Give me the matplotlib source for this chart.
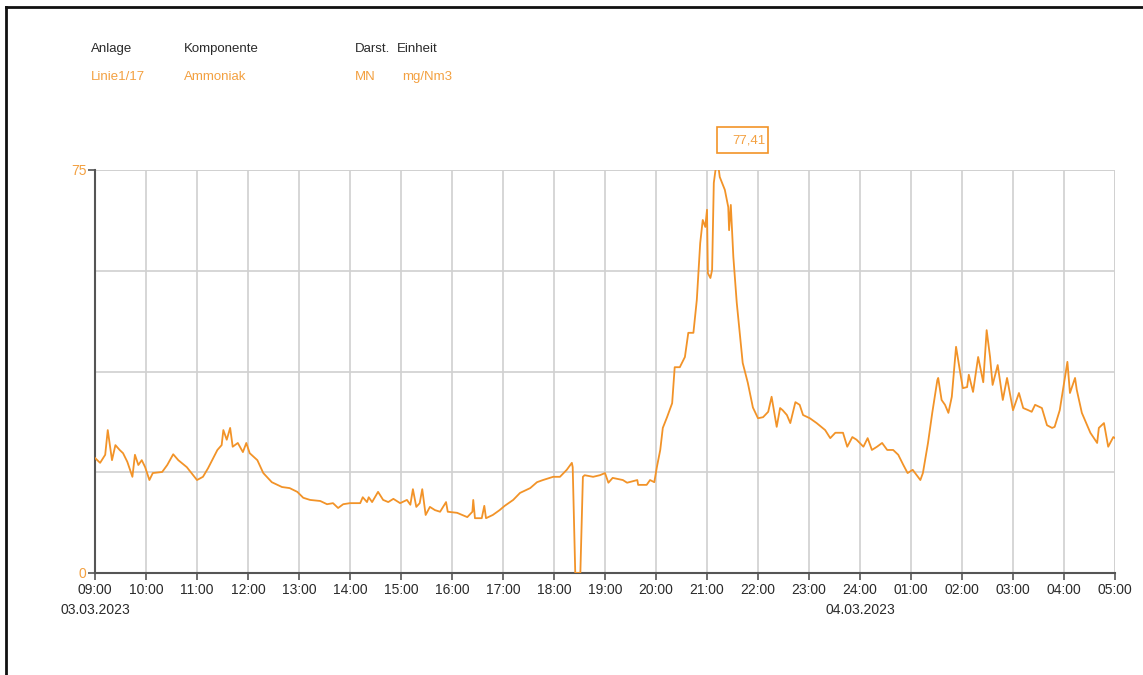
import matplotlib
matplotlib.use("Agg")
import matplotlib.pyplot as plt
import matplotlib.patches as mpatches
import matplotlib.lines as mlines
import matplotlib.transforms as mtransforms

plt.rcParams['font.family'] = ['Liberation Sans', 'DejaVu Sans']

# ---- data: minutes since 03.03.2023 09:00, NH3 value in mg/Nm3 ----
minutes = [0, 6, 12, 15, 20, 24, 29, 33, 38, 44, 47, 51, 55, 59, 64, 68, 79, 85, 92, 98,
           108, 120, 127, 133, 144, 149, 151, 155, 159, 162, 168, 174, 178, 182, 191, 198,
           208, 220, 229, 238, 245, 253, 265, 273, 280, 286, 292, 300, 312, 315, 320, 322,
           326, 333, 339, 345, 351, 359, 367, 371, 374, 378, 382, 385, 389, 394, 400, 406,
           413, 415, 426, 438, 444, 445, 447, 455, 458, 460, 468, 476, 482, 492, 500, 512,
           520, 527, 539, 547, 555, 561, 562, 565, 571, 574, 576, 586, 594, 600, 604, 609,
           621, 626, 638, 639, 649, 653, 658, 661, 665, 668, 673, 679, 682, 688, 694, 698,
           704, 708, 712, 715, 718, 720, 721, 724, 726, 728, 732, 735, 741, 745, 746, 748,
           751, 755, 759, 762, 768, 774, 780, 786, 792, 796, 800, 802, 806, 809, 814, 818,
           824, 829, 833, 841, 849, 859, 865, 871, 880, 885, 891, 896, 904, 909, 914, 920,
           926, 932, 939, 945, 951, 956, 962, 971, 974, 980, 985, 991, 992, 996, 1000, 1004,
           1008, 1013, 1018, 1021, 1026, 1028, 1033, 1039, 1045, 1049, 1053, 1056, 1062,
           1068, 1073, 1080, 1087, 1092, 1098, 1102, 1106, 1114, 1120, 1126, 1129, 1135,
           1144, 1147, 1153, 1155, 1161, 1171, 1179, 1181, 1187, 1192, 1198, 1200]
values = [21.4, 20.5, 22.0, 26.6, 21.0, 23.8, 22.9, 22.3, 20.7, 17.9, 22.0, 20.1, 21.0, 19.7,
          17.3, 18.6, 18.8, 20.1, 22.1, 21.0, 19.7, 17.3, 17.9, 19.5, 22.9, 23.8, 26.6, 24.8,
          27.0, 23.5, 24.2, 22.5, 24.2, 22.3, 21.0, 18.6, 16.9, 16.0, 15.8, 15.1, 14.0, 13.6,
          13.4, 12.8, 13.0, 12.1, 12.8, 13.0, 13.0, 14.1, 13.2, 14.1, 13.2, 15.1, 13.6, 13.2,
          13.8, 13.0, 13.6, 12.7, 15.6, 12.3, 13.0, 15.6, 10.8, 12.3, 11.7, 11.4, 13.2, 11.4,
          11.2, 10.4, 11.4, 13.6, 10.2, 10.2, 12.5, 10.2, 10.8, 11.7, 12.5, 13.6, 14.9, 15.8,
          16.9, 17.3, 17.9, 17.9, 19.2, 20.5, 19.7, 0.0, 0.0, 17.9, 18.2, 17.9, 18.2, 18.6,
          16.8, 17.7, 17.3, 16.8, 17.3, 16.4, 16.4, 17.3, 16.9, 19.7, 22.9, 27.0, 29.0, 31.6,
          38.3, 38.3, 40.2, 44.7, 44.7, 50.8, 61.4, 65.7, 64.4, 67.6, 55.8, 54.9, 56.4, 72.6,
          77.41, 73.7, 71.3, 68.1, 63.8, 68.5, 58.8, 50.3, 43.9, 39.1, 35.4, 30.8, 28.8, 29.0,
          30.0, 32.8, 29.0, 27.2, 30.7, 30.3, 29.4, 27.9, 31.8, 31.3, 29.4, 28.8, 27.9, 26.6,
          25.1, 26.1, 26.1, 23.5, 25.3, 24.8, 23.5, 25.1, 22.9, 23.5, 24.2, 22.9, 22.9, 22.0,
          20.1, 18.6, 19.2, 17.3, 18.6, 24.2, 29.8, 35.9, 36.3, 32.2, 31.3, 29.8, 32.8, 42.1,
          37.2, 34.4, 34.6, 36.9, 33.7, 40.2, 35.5, 45.2, 40.2, 35.0, 38.7, 32.2, 36.3, 30.3,
          33.5, 30.7, 30.3, 30.0, 31.3, 30.7, 27.5, 27.0, 27.2, 30.3, 39.3, 33.5, 36.3, 34.1,
          29.8, 26.1, 24.2, 27.0, 27.9, 23.5, 25.3, 25.1]

tick_labels = ["09:00", "10:00", "11:00", "12:00", "13:00", "14:00", "15:00", "16:00",
               "17:00", "18:00", "19:00", "20:00", "21:00", "22:00", "23:00", "24:00",
               "01:00", "02:00", "03:00", "04:00", "05:00"]
date_labels = ["03.03.2023", "04.03.2023"]
date_label_pos = [0, 900]
y_max = 75
peak_label = "77,41"

header_titles = ["Anlage", "Komponente", "Darst.", "Einheit"]
header_values = ["Linie1/17", "Ammoniak", "MN", "mg/Nm3"]

LINE = "#F29328"
TXT_OR = "#F3A040"
GRID = "#D0D0D0"
AXC = "#555555"
TXT = "#2a2a2a"

W, H = 1143, 675
fig = plt.figure(figsize=(W / 100, H / 100), dpi=100)
ax = fig.add_axes([95 / W, 1 - 573 / H, (1115 - 95) / W, (573 - 170) / H])

ax.plot(minutes, values, color=LINE, lw=1.3, zorder=3, solid_joinstyle='round')

ax.set_xlim(0, 1200)
ax.set_ylim(0, y_max)
ax.set_xticks(range(0, 1201, 60))
ax.set_xticklabels(tick_labels, fontsize=10, color=TXT)
ax.set_yticks([0, y_max])
ax.set_yticklabels(["0", str(y_max)], fontsize=10, color=TXT_OR)
ax.set_yticks([y_max / 4, y_max / 2, 3 * y_max / 4], minor=True)
ax.tick_params(axis='y', which='minor', length=0)
ax.tick_params(axis='x', length=5, width=1.2, color=AXC, pad=2)
ax.tick_params(axis='y', which='major', length=5, width=1.2, color=AXC, pad=1)

ax.grid(True, which='both', color=GRID, lw=1.2, zorder=0)
ax.set_axisbelow(True)
for s in ['top', 'right']:
    ax.spines[s].set_visible(False)
for s in ['left', 'bottom']:
    ax.spines[s].set_color(AXC)
    ax.spines[s].set_linewidth(1.5)
ax.axhline(y_max, color=GRID, lw=1.2, zorder=0)
ax.axvline(1200, color=GRID, lw=1.2, zorder=0)

# date labels
for pos, lab in zip(date_label_pos, date_labels):
    ax.annotate(lab, xy=(pos, 0), xycoords='data', xytext=(0, -27),
                textcoords='offset points', ha='center', va='center',
                fontsize=10, color=TXT, annotation_clip=False)

# header
hx = [91, 184, 355, 397]
hx2 = [91, 184, 355, 402]
for x, t in zip(hx, header_titles):
    fig.text(x / W, 1 - 49 / H, t, fontsize=9.5, color=TXT, va='center', ha='left')
for x, t in zip(hx2, header_values):
    fig.text(x / W, 1 - 77 / H, t, fontsize=9.5, color=TXT_OR, va='center', ha='left')

# peak label box
fig.canvas.draw()
ipk = values.index(max(values))
px, py = ax.transData.transform((minutes[ipk], values[ipk]))
rect = mpatches.Rectangle((px, py + 4), 51, 26, transform=mtransforms.IdentityTransform(),
                          fill=False, edgecolor=LINE, lw=1.2, zorder=5, clip_on=False)
fig.add_artist(rect)
fig.text((px + 48) / W, (py + 17) / H, peak_label, fontsize=9.5, color=TXT_OR,
         ha='right', va='center')

# outer border
bc = "#111111"
fig.add_artist(mlines.Line2D([6 / W, 1], [1 - 7 / H, 1 - 7 / H], color=bc, lw=2,
                             transform=fig.transFigure))
fig.add_artist(mlines.Line2D([6 / W, 6 / W], [1 - 7 / H, 0], color=bc, lw=2,
                             transform=fig.transFigure))

fig.savefig("out.png", dpi=100)
